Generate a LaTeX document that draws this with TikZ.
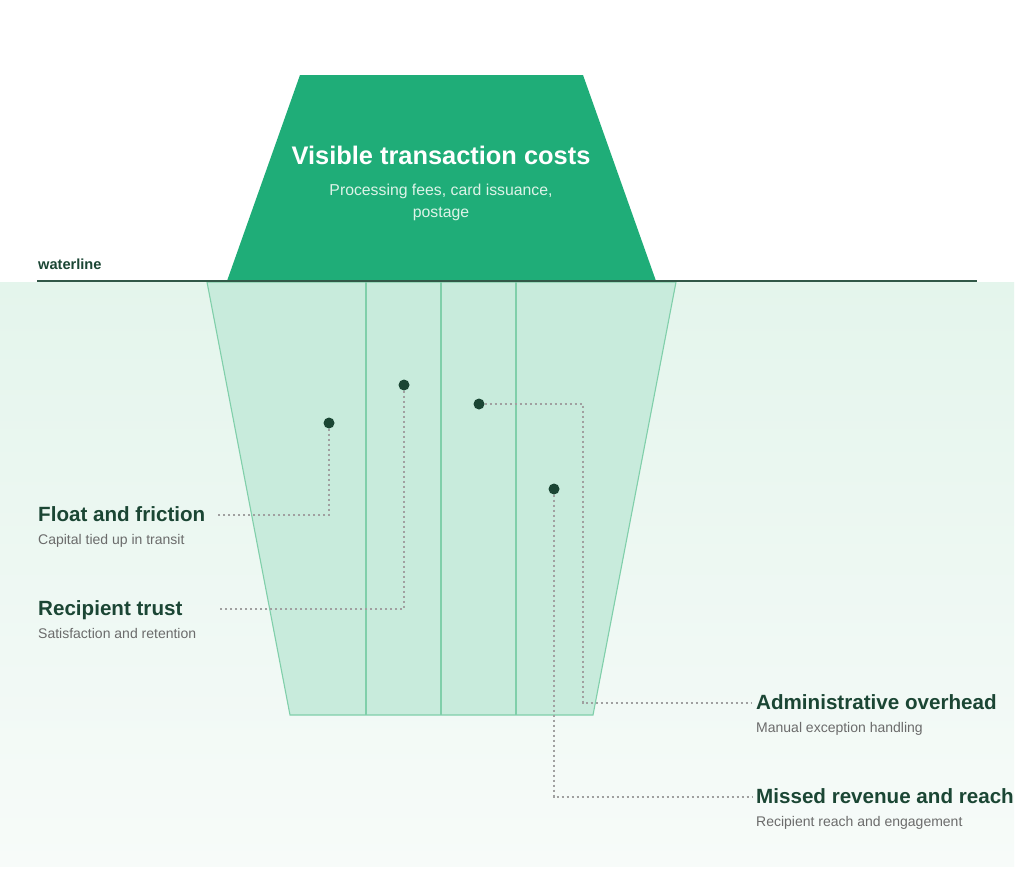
\documentclass[tikz,border=0pt]{standalone}
\usepackage{fontspec}
\setmainfont{Liberation Sans}
\setsansfont{Liberation Sans}
\usetikzlibrary{calc}
\definecolor{topgreen}{HTML}{1FAD78}
\definecolor{seafill}{HTML}{C8EBDC}
\definecolor{seaedge}{HTML}{80CFAA}
\definecolor{bgtop}{HTML}{E4F5EC}
\definecolor{bgbot}{HTML}{F7FBF9}
\definecolor{darkgreen}{HTML}{1B4634}
\definecolor{subgray}{HTML}{6B6B6B}
\definecolor{dotgray}{HTML}{A0A0A0}
\definecolor{lightsub}{HTML}{DDF3E8}
\tikzset{
  labtitle/.style={anchor=base west, inner sep=0pt, font=\fontsize{20.6}{22}\selectfont\bfseries, text=darkgreen},
  labsub/.style={anchor=base west, inner sep=0pt, font=\fontsize{14}{16}\selectfont, text=subgray},
  marker/.style={circle, fill=darkgreen, minimum size=11pt, inner sep=0pt},
  leader/.style={draw=dotgray, line width=1.1pt, dash pattern=on 2.5pt off 2.5pt},
}
\begin{document}
\begin{tikzpicture}[x=1pt,y=-1pt]
\useasboundingbox (0,0) rectangle (1024,870);
\fill[white] (0,0) rectangle (1024,870);
% underwater background
\shade[top color=bgtop, bottom color=bgbot] (0,282) rectangle (1014,866);
% visible iceberg
\fill[topgreen] (300,75) -- (583,75) -- (656,281) -- (227,281) -- cycle;
% submerged part
\draw[fill=seafill, draw=seaedge, line width=1.1pt] (207,282) -- (676,282) -- (593,715) -- (290,715) -- cycle;
\foreach \xx in {366,441,516} \draw[seaedge, line width=1.1pt] (\xx,282) -- (\xx,715);
% waterline
\draw[darkgreen!90, line width=2pt] (37,281) -- (977,281);
\node[anchor=base west, inner sep=0pt, font=\fontsize{14.6}{16}\selectfont\bfseries, text=darkgreen] (wl) at (38,269) {waterline};
% top text
\node[anchor=base, inner sep=0pt, font=\fontsize{25.4}{28}\selectfont\bfseries, text=white] (vt) at (441,164) {Visible transaction costs};
\node[anchor=base, inner sep=0pt, font=\fontsize{15.8}{18}\selectfont, text=lightsub] (vs1) at (441,195) {Processing fees, card issuance,};
\node[anchor=base, inner sep=0pt, font=\fontsize{15.8}{18}\selectfont, text=lightsub] (vs2) at (441,217) {postage};
% labels
\node[labtitle] (ff) at (38,521) {Float and friction};
\node[labsub] (ffs) at (38,544) {Capital tied up in transit};
\node[labtitle] (rt) at (38,615) {Recipient trust};
\node[labsub] (rts) at (38,638) {Satisfaction and retention};
\node[labtitle] (ao) at (756,709) {Administrative overhead};
\node[labsub] (aos) at (756,732) {Manual exception handling};
\node[labtitle] (mr) at (756,803) {Missed revenue and reach};
\node[labsub] (mrs) at (756,826) {Recipient reach and engagement};
% leader end points
\coordinate (ffEnd) at (218,515);
\coordinate (rtEnd) at (218,609);
\coordinate (aoEnd) at (752,703);
\coordinate (mrEnd) at (752,797);
% markers
\node[marker] (d1) at (329,423) {};
\node[marker] (d2) at (404,385) {};
\node[marker] (d3) at (479,404) {};
\node[marker] (d4) at (554,489) {};
% leaders
\draw[leader] (d1) |- (ffEnd);
\draw[leader] (d2) |- (rtEnd);
\draw[leader] (d3) -| (583,703) -- (aoEnd);
\draw[leader] (d4) |- (mrEnd);
\end{tikzpicture}
\end{document}
